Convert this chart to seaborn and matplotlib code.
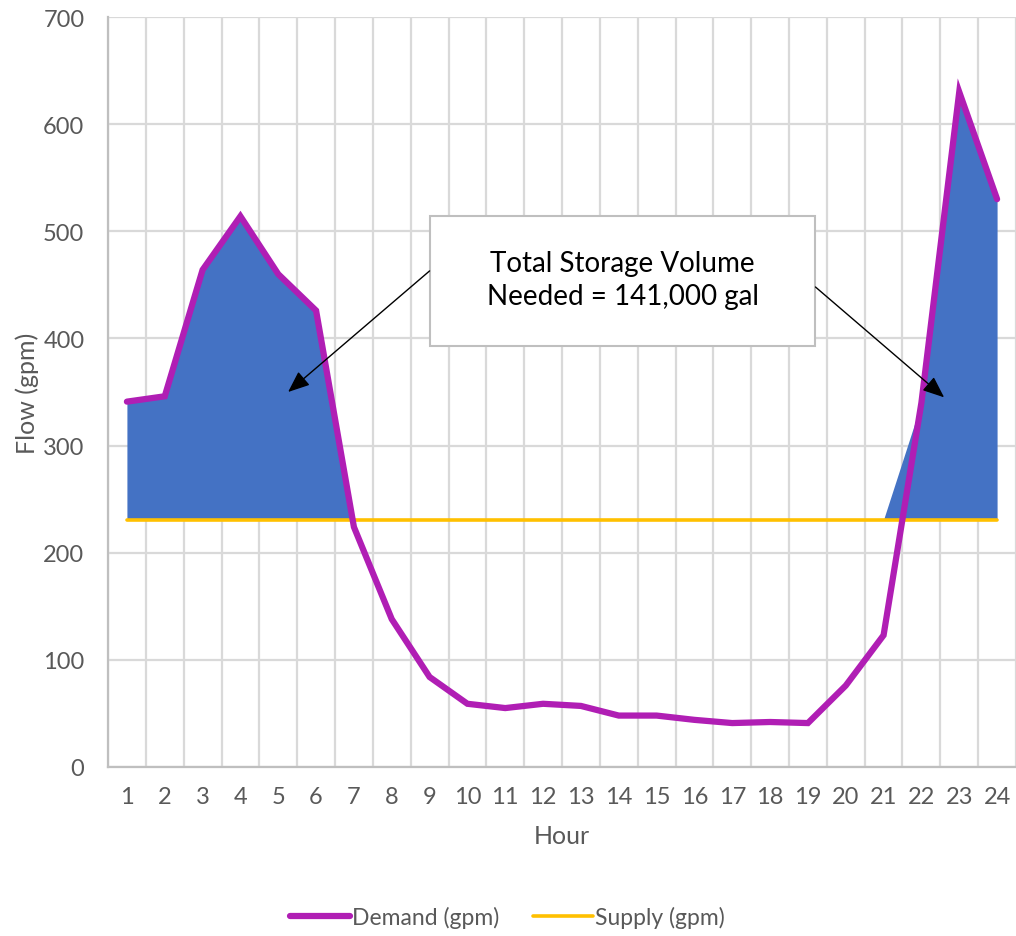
import numpy as np
import pandas as pd
import seaborn as sns
import matplotlib.pyplot as plt

# Hourly demand vs constant supply
hours = list(range(1, 25))
demand = [341, 346, 464, 514, 460, 426, 224, 138, 84, 59, 55, 59,
          57, 48, 48, 44, 41, 42, 41, 76, 123, 340, 630, 530]
supply = [231] * 24
box_text = "Total Storage Volume\nNeeded = 141,000 gal"

df = pd.DataFrame({"Hour": hours, "Demand (gpm)": demand, "Supply (gpm)": supply})
# storage needed where demand exceeds supply
df["top"] = np.maximum(df["Demand (gpm)"], df["Supply (gpm)"])

sns.set_theme(style="white")
plt.rcParams["font.family"] = ["Lato", "DejaVu Sans"]

fig = plt.figure(figsize=(10.16, 9.37), dpi=100)
ax = fig.add_axes([108 / 1016, 1 - 768 / 937, 908 / 1016, 750 / 937])

ax.fill_between(df["Hour"], df["Supply (gpm)"], df["top"], color="#4472C4", lw=0, zorder=2)
sns.lineplot(data=df, x="Hour", y="Supply (gpm)", color="#FFC000", lw=2.6,
             label="Supply (gpm)", ax=ax, zorder=3)
sns.lineplot(data=df, x="Hour", y="Demand (gpm)", color="#B01EB4", lw=4.5,
             label="Demand (gpm)", ax=ax, zorder=4, solid_joinstyle="miter")

ax.set_xlim(0.5, 24.5)
ax.set_ylim(0, 700)
ax.set_xticks(hours)
ax.set_xticks(np.arange(0.5, 25, 1), minor=True)
ax.set_yticks(range(0, 701, 100))
ax.grid(which="minor", axis="x", color="#D9D9D9", lw=1.6, zorder=0)
ax.grid(which="major", axis="y", color="#D9D9D9", lw=1.6, zorder=0)
ax.set_axisbelow(True)
ax.tick_params(which="both", length=0, labelsize=17, colors="#595959")
ax.tick_params(axis="x", pad=14)
ax.tick_params(axis="y", pad=17)
for s in ["top", "right"]:
    ax.spines[s].set_visible(False)
for s in ["left", "bottom"]:
    ax.spines[s].set_color("#BFBFBF")
    ax.spines[s].set_linewidth(1.6)

ax.set_xlabel("Hour", fontsize=18, color="#595959", labelpad=12)
ax.set_ylabel("Flow (gpm)", fontsize=18, color="#595959", labelpad=3)

# text box with arrows
ax.add_patch(plt.Rectangle((9.0, 393), 10.2, 121, fc="white", ec="#BFBFBF", lw=1.5, zorder=5))
ax.text(14.1, 455, box_text, ha="center", va="center", fontsize=20, color="black",
        linespacing=1.35, zorder=6)
arrow = dict(arrowstyle="-|>,head_length=1.1,head_width=0.45", color="black", lw=1, shrinkA=0, shrinkB=0)
ax.annotate("", xy=(5.26, 350), xytext=(9.0, 463), arrowprops=arrow, zorder=6)
ax.annotate("", xy=(22.6, 345), xytext=(19.2, 448), arrowprops=arrow, zorder=6)

h, l = ax.get_legend_handles_labels()
order = [l.index("Demand (gpm)"), l.index("Supply (gpm)")]
ax.legend([h[i] for i in order], [l[i] for i in order], loc="center",
          bbox_to_anchor=(0.44, -0.2), ncol=2, frameon=False, fontsize=16.5,
          handlelength=2.6, handletextpad=0.1, columnspacing=1.5, labelcolor="#595959")

fig.savefig("out.png", dpi=100)
